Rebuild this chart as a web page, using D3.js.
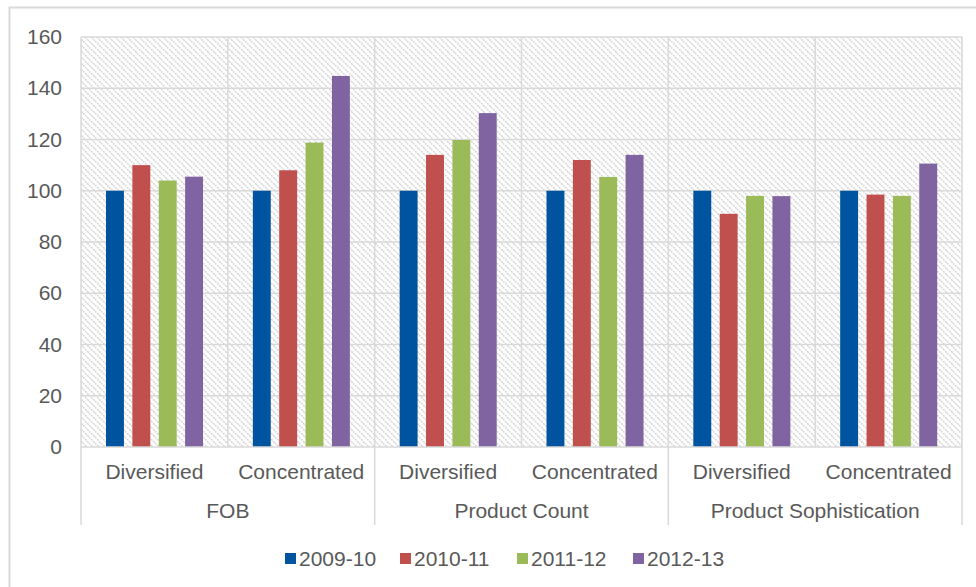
<!DOCTYPE html>
<html>
<head>
<meta charset="utf-8">
<script src="https://cdn.jsdelivr.net/npm/d3@7"></script>
<style>
  html, body { margin: 0; padding: 0; background: #fff; }
  svg { display: block; font-family: "Liberation Sans", Arial, sans-serif; }
</style>
</head>
<body>
<svg id="chart" width="976" height="587"></svg>
<script>
const groups = ["FOB", "Product Count", "Product Sophistication"];
const subCategories = ["Diversified", "Concentrated"];
const seriesNames = ["2009-10", "2010-11", "2011-12", "2012-13"];
const seriesColors = ["#00539F", "#C0504D", "#9BBB59", "#8064A2"];
const yTicks = [0, 20, 40, 60, 80, 100, 120, 140, 160];

// values per category (group x subcategory), one array per series
const s2009 = [100, 100, 100, 100, 100, 100];
const s2010 = [110, 108, 114, 112, 91, 98.5];
const s2011 = [104, 118.8, 119.8, 105.4, 98, 98];
const s2012 = [105.5, 144.8, 130.3, 114, 97.9, 110.6];
const seriesValues = [s2009, s2010, s2011, s2012];

const categories = [];
groups.forEach(g => subCategories.forEach(s => categories.push({ key: g + "|" + s, group: g, sub: s })));

const svg = d3.select("#chart");
const W = 976, H = 587;
const m = { left: 81, right: 962, top: 37, bottom: 447 };
const FS = 21;
const TXT = "#595959";

// outer border
svg.append("rect").attr("x", 9.5).attr("y", 7.5).attr("width", W).attr("height", H)
  .attr("fill", "#fff").attr("stroke", "#d9d9d9").attr("stroke-width", 2);

// hatch pattern
const defs = svg.append("defs");
const pat = defs.append("pattern").attr("id", "hatch").attr("patternUnits", "userSpaceOnUse")
  .attr("width", 6).attr("height", 6);
pat.append("rect").attr("width", 6).attr("height", 6).attr("fill", "#fff");
pat.append("path").attr("d", "M-1,-1 L7,7 M-1,5 L1,7 M5,-1 L7,1")
  .attr("stroke", "#cfcfcf").attr("stroke-width", 1.4).attr("stroke-dasharray", "2,1");

const x0 = d3.scaleBand().domain(categories.map(c => c.key)).range([m.left, m.right]).padding(0);
const x1 = d3.scaleBand().domain(seriesNames).range([25, x0.bandwidth() - 24.8]).paddingInner(0.32).paddingOuter(0);
const y = d3.scaleLinear().domain([0, 160]).range([m.bottom, m.top]);

svg.append("rect").attr("x", m.left).attr("y", m.top).attr("width", m.right - m.left)
  .attr("height", m.bottom - m.top).attr("fill", "url(#hatch)");

// horizontal grid
svg.append("g").selectAll("line").data(yTicks.filter(t => t > 0)).join("line")
  .attr("x1", m.left).attr("x2", m.right).attr("y1", d => y(d)).attr("y2", d => y(d))
  .attr("stroke", "#d9d9d9").attr("stroke-width", 1.5);

// vertical grid at category boundaries
const bounds = categories.map(c => x0(c.key)).concat([m.right]);
svg.append("g").selectAll("line").data(bounds).join("line")
  .attr("x1", d => d).attr("x2", d => d).attr("y1", m.top).attr("y2", m.bottom)
  .attr("stroke", "#d9d9d9").attr("stroke-width", 1.5);

// y-axis labels
const yAxis = d3.axisLeft(y).tickValues(yTicks).tickSize(0).tickPadding(19);
const ya = svg.append("g").attr("transform", `translate(${m.left},0)`).call(yAxis);
ya.select(".domain").remove();
ya.selectAll("text").attr("font-size", FS).attr("fill", TXT)
  .attr("font-family", "'Liberation Sans', Arial, sans-serif");

// bars
const catG = svg.append("g").selectAll("g").data(categories.map((c, i) => ({ c, i }))).join("g")
  .attr("transform", d => `translate(${x0(d.c.key)},0)`);
catG.selectAll("rect").data(d => seriesNames.map((s, j) => ({ s, j, v: seriesValues[j][d.i] }))).join("rect")
  .attr("x", d => x1(d.s)).attr("width", x1.bandwidth())
  .attr("y", d => y(d.v)).attr("height", d => y(0) - y(d.v))
  .attr("fill", d => seriesColors[d.j]);

// x axis line
svg.append("line").attr("x1", m.left).attr("x2", m.right).attr("y1", m.bottom).attr("y2", m.bottom)
  .attr("stroke", "#d9d9d9").attr("stroke-width", 1.5);

// sub-category labels
const xAxis = d3.axisBottom(x0).tickSize(0).tickPadding(17).tickFormat(k => k.split("|")[1]);
const xa = svg.append("g").attr("transform", `translate(0,${m.bottom})`).call(xAxis);
xa.select(".domain").remove();
xa.selectAll("text").attr("font-size", FS).attr("fill", TXT)
  .attr("font-family", "'Liberation Sans', Arial, sans-serif");

// group labels and separators
const groupStart = g => x0(g + "|" + subCategories[0]);
const groupEnd = g => x0(g + "|" + subCategories[subCategories.length - 1]) + x0.bandwidth();
svg.append("g").selectAll("text").data(groups).join("text")
  .attr("x", g => (groupStart(g) + groupEnd(g)) / 2).attr("y", 518)
  .attr("text-anchor", "middle").attr("font-size", FS).attr("fill", TXT).text(g => g);
const seps = groups.map(groupStart).concat([groupEnd(groups[groups.length - 1])]);
svg.append("g").selectAll("line").data(seps).join("line")
  .attr("x1", d => d).attr("x2", d => d).attr("y1", m.bottom).attr("y2", 525)
  .attr("stroke", "#d9d9d9").attr("stroke-width", 1.5);

// legend
const legendX = [285, 400, 517, 633];
const lg = svg.append("g").selectAll("g").data(seriesNames).join("g")
  .attr("transform", (d, i) => `translate(${legendX[i]},553)`);
lg.append("rect").attr("width", 11).attr("height", 11).attr("fill", (d, i) => seriesColors[i]);
lg.append("text").attr("x", 14).attr("y", 13).attr("font-size", FS).attr("fill", TXT).text(d => d);
</script>
</body>
</html>
